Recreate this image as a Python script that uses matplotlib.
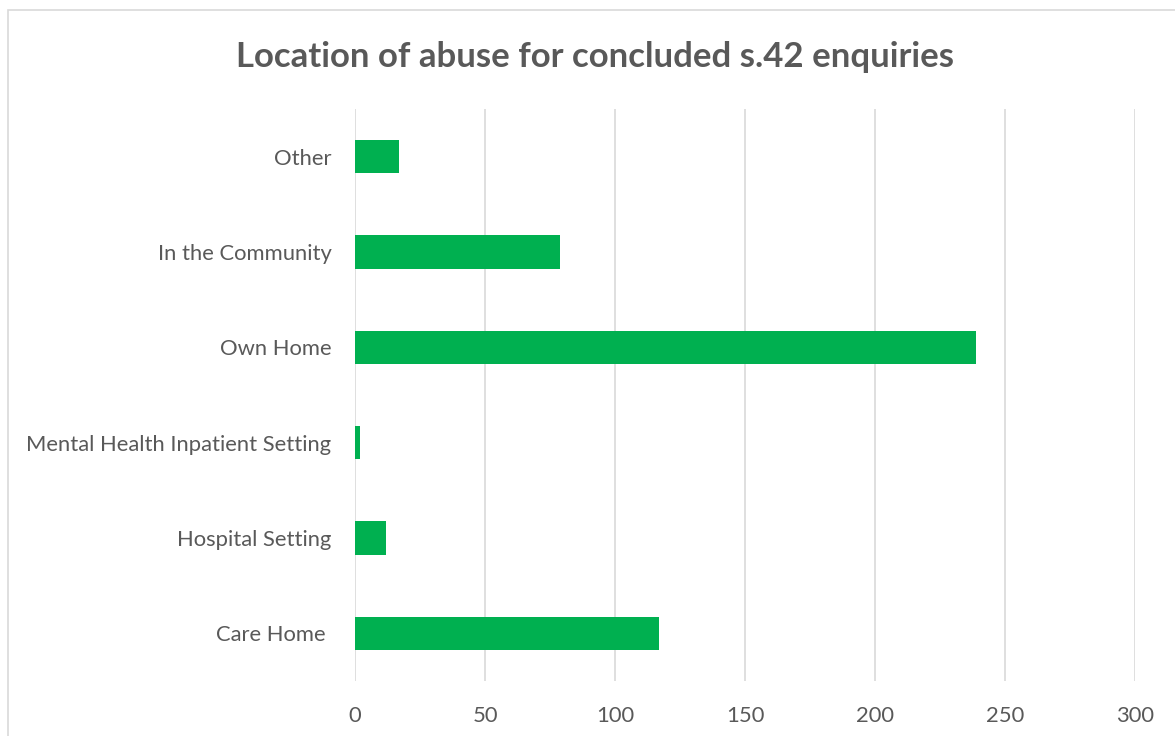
import matplotlib.pyplot as plt
from matplotlib.patches import Rectangle

# Data
categories = ["Care Home ", "Hospital Setting", "Mental Health Inpatient Setting",
              "Own Home", "In the Community", "Other"]
counts = [117, 12, 2, 239, 79, 17]
x_ticks = [0, 50, 100, 150, 200, 250, 300]

plt.rcParams['font.family'] = ['Lato', 'DejaVu Sans']

fig = plt.figure(figsize=(11.75, 7.36), dpi=100)
ax = fig.add_axes([355 / 1175, 55 / 736, 780 / 1175, 572 / 736])

# Chart area border
fig.patches.append(Rectangle((8 / 1175, -0.05), 1.1, (726 / 736) + 0.05,
                             transform=fig.transFigure, fill=False,
                             edgecolor="#d9d9d9", linewidth=1.2, clip_on=False))

ax.barh(categories, counts, height=0.35, color="#00B050", zorder=3)

ax.set_xlim(0, 300)
ax.set_ylim(-0.5, len(categories) - 0.5)
ax.set_xticks(x_ticks)
ax.grid(axis="x", color="#d9d9d9", linewidth=1.2, zorder=0)
ax.grid(axis="y", visible=False)
for s in ax.spines.values():
    s.set_visible(False)
ax.tick_params(axis="both", length=0, labelsize=15.8, labelcolor="#595959")
ax.tick_params(axis="y", pad=17)
ax.tick_params(axis="x", pad=18)

fig.text(595 / 1175, 1 - 57 / 736, "Location of abuse for concluded s.42 enquiries",
         ha="center", va="center", fontsize=25, fontweight="bold", color="#595959")

fig.savefig("out.png", dpi=100)
